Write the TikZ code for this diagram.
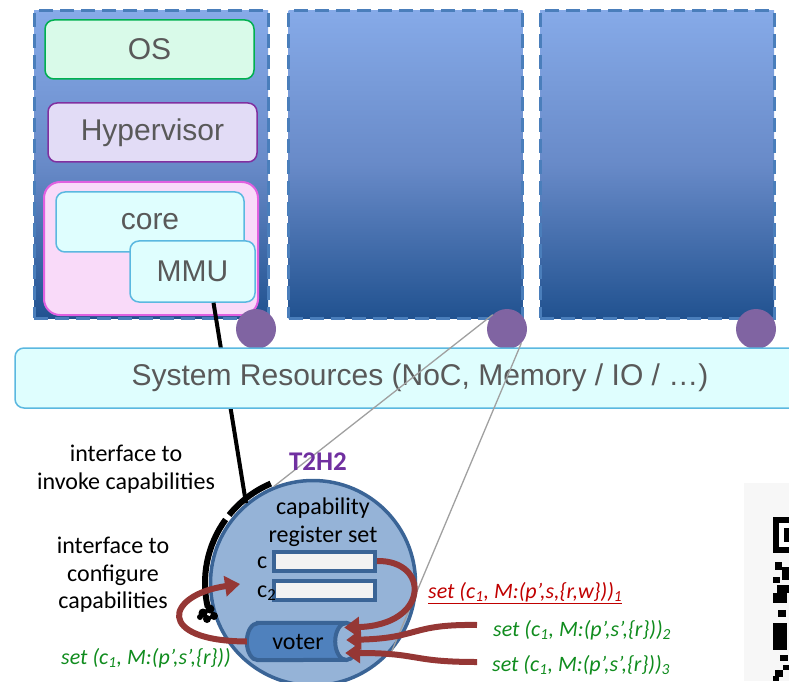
\documentclass[tikz,border=0pt]{standalone}
\usepackage{fontspec}
\setmainfont{Liberation Sans}
\newfontfamily\calfont{Carlito}
\usetikzlibrary{shapes.geometric,arrows.meta,calc}

\definecolor{bladetop}{RGB}{134,170,232}
\definecolor{blademid}{RGB}{104,138,200}
\definecolor{bladebot}{RGB}{33,82,144}
\definecolor{bladeedge}{RGB}{74,126,187}
\definecolor{labelgray}{RGB}{89,89,89}
\definecolor{osfill}{RGB}{217,250,233}
\definecolor{osedge}{RGB}{0,176,80}
\definecolor{hypfill}{RGB}{226,220,246}
\definecolor{hypedge}{RGB}{128,48,160}
\definecolor{cpufill}{RGB}{249,218,249}
\definecolor{cpuedge}{RGB}{224,96,224}
\definecolor{cyanfill}{RGB}{223,254,254}
\definecolor{cyanedge}{RGB}{91,184,224}
\definecolor{portpurple}{RGB}{128,100,162}
\definecolor{tfill}{RGB}{149,179,215}
\definecolor{tedge}{RGB}{58,100,150}
\definecolor{regfill}{RGB}{242,242,242}
\definecolor{voterblue}{RGB}{79,129,189}
\definecolor{arrowred}{RGB}{149,55,53}
\definecolor{tpurple}{RGB}{112,48,160}
\definecolor{setred}{RGB}{192,0,0}
\definecolor{setgreen}{RGB}{16,140,30}
\definecolor{wire}{RGB}{160,160,160}

\begin{document}
\begin{tikzpicture}[x=1pt,y=1pt,
  blade/.style={draw=bladeedge, line width=3pt, dash pattern=on 14pt off 7pt,
    top color=bladetop, bottom color=bladebot, middle color=blademid,
    minimum width=234pt, minimum height=307pt, inner sep=0pt},
  biglabel/.style={font=\fontsize{30}{36}\selectfont, text=labelgray},
  layerbox/.style={biglabel, rounded corners=9pt, line width=1.5pt, inner sep=0pt},
  port/.style={circle, fill=portpurple, minimum size=40pt, inner sep=0pt},
  smalltext/.style={font=\calfont\fontsize{24}{28}\selectfont, text=black},
  settext/.style={font=\calfont\itshape\fontsize{22}{26}\selectfont, inner sep=0pt},
  reg/.style={draw=tedge, fill=regfill, line width=4pt, minimum width=101pt,
    minimum height=19pt, inner sep=0pt},
  redarrow/.style={draw=arrowred, line width=6pt,
    -{Triangle[length=15pt,width=20pt]}},
  wireline/.style={draw=wire, line width=1.3pt}
]
\useasboundingbox (0,0) rectangle (789,681);

% processing elements
\node[blade] (b1) at (151,516.5) {};
\node[blade] (b2) at (405.5,516.5) {};
\node[blade] (b3) at (657,516.5) {};

% software stack of the first element
\node[layerbox, draw=osedge, fill=osfill, minimum width=209pt, minimum height=59pt]
  (os) at (149.5,631.5) {OS};
\node[layerbox, draw=hypedge, fill=hypfill, minimum width=209pt, minimum height=59pt]
  (hyp) at (152.5,548.5) {Hypervisor};
\node[draw=cpuedge, fill=cpufill, line width=2pt, rounded corners=16pt,
  minimum width=214pt, minimum height=133pt, inner sep=0pt] (cpu) at (151,432.5) {};
\node[layerbox, draw=cyanedge, fill=cyanfill, minimum width=188pt, minimum height=60pt]
  (core) at (150,459) {core};
\node[layerbox, draw=cyanedge, fill=cyanfill, minimum width=125pt, minimum height=61pt]
  (mmu) at (192.5,409.5) {MMU};

% ports to the interconnect
\node[port] (p1) at (256,352) {};
\node[port] (p2) at (507,352) {};
\node[port] (p3) at (756,352) {};

% capability unit
\node[circle, draw=tedge, fill=tfill, line width=3.5pt, minimum size=205pt,
  inner sep=0pt] (t2h2) at (313,98) {};

% invocation wire from the MMU
\draw[line width=4pt] ($(mmu.south)+(21,0)$) -- (t2h2.130);

% shared resources
\node[draw=cyanedge, fill=cyanfill, line width=1.5pt, rounded corners=9pt,
  minimum width=790pt, minimum height=60pt, inner sep=0pt] (res) at (410,303) {};
\node[biglabel, inner sep=0pt] (reslabel) at (420,303)
  {System Resources (NoC, Memory / IO / \ldots)};

% magnification lines from the port
\draw[wireline] (p2.135) -- (t2h2.112);
\draw[wireline] (p2.-45) -- (t2h2.-41);

% interface segments on the unit's border
\draw[line width=6pt] ($(t2h2.center)+(113:108)$) arc[start angle=113, end angle=141, radius=108];
\draw[line width=6pt] ($(t2h2.center)+(144:108)$) arc[start angle=144, end angle=193, radius=108];
\fill (203,68) circle (4.5) (210,72) circle (4.5) (214,65) circle (4)
      (207,62) circle (4) (200,64) circle (3);

\node[font=\calfont\bfseries\fontsize{27}{32}\selectfont, text=tpurple] (t2lab)
  at (318,219) {T2H2};
\node[smalltext, align=center] (crs) at (323,159) {capability\\register set};

% capability registers
\node[smalltext, anchor=base west, inner sep=0pt] (c1lab) at (257,113) {c};
\node[reg] (c1) at (324.5,120) {};
\node[reg] (c2) at (324.5,91) {};
\node[smalltext, anchor=base west, inner sep=0pt] (c2lab) at (257,84) {c\textsubscript{2}};

% voter: a lying cylinder, open face to the right
\node[minimum width=110pt, minimum height=37pt, inner sep=0pt] (voter) at (302,39.5) {};
\path[fill=voterblue, draw=tedge, line width=4pt]
  ($(voter.north west)+(11,0)$) -- ($(voter.north east)+(-11,0)$)
  arc[start angle=90, end angle=-90, x radius=11, y radius=18.5]
  -- ($(voter.south west)+(11,0)$)
  arc[start angle=270, end angle=90, x radius=11, y radius=18.5] -- cycle;
\path[fill=tfill, draw=tedge, line width=4pt]
  ($(voter.east)+(-11,0)$) ellipse [x radius=11, y radius=18.5];
\node[font=\calfont\fontsize{24}{28}\selectfont, inner sep=0pt] (votertext)
  at ($(voter.center)+(-4,0)$) {voter};

% update requests
\coordinate (inB) at (477,56);
\coordinate (inC) at (477,19);
\coordinate (fbtip) at (240,97);
\draw[redarrow] (c1.east) .. controls (430,121) and (430,56) .. ($(voter.east)+(-13,14)$);
\draw[redarrow] (inB) .. controls (410,57) and (420,43) .. ($(voter.east)+(-11,1.5)$);
\draw[redarrow] (inC) .. controls (410,19) and (420,28) .. ($(voter.east)+(-12,-11.5)$);
\draw[redarrow] (voter.west) .. controls (155,40) and (165,86) .. (fbtip);

% labels
\node[smalltext, align=center] (ifinv) at (126,212) {interface to\\invoke capabilities};
\node[smalltext, align=center, font=\calfont\fontsize{24}{27.5}\selectfont] (ifcfg)
  at (113,106) {interface to\\configure\\capabilities};

\node[settext, text=setred, anchor=west] (s1) at (428,88)
  {\underline{set (c\textsubscript{1}, M:(p’,s,\{r,w\}))\textsubscript{1}}};
\node[settext, text=setgreen, anchor=west] (s2) at (493,51)
  {set (c\textsubscript{1}, M:(p’,s’,\{r\}))\textsubscript{2}};
\node[settext, text=setgreen, anchor=west] (s3) at (492,16)
  {set (c\textsubscript{1}, M:(p’,s’,\{r\}))\textsubscript{3}};
\node[settext, text=setgreen] (s0) at (146,23)
  {set (c\textsubscript{1}, M:(p’,s’,\{r\}))};

% code tag at the right border
\begin{scope}[yshift=681pt, yscale=-1]
  \fill[black!3] (744,483) rectangle (789,681);
  \fill (773,517) rectangle (789,553);
  \fill[white] (779,523) rectangle (789,547);
  \fill (784,528) rectangle (789,542);
  \fill (775,562) rectangle ++(7,8);
  \fill (782,567) rectangle ++(7,13);
  \fill (773,577) rectangle ++(7,6);
  \fill (777,585) rectangle ++(12,8);
  \fill (773,593) rectangle ++(14,10);
  \fill (778,610) rectangle ++(8,7);
  \fill (773,623) rectangle ++(14,27);
  \fill (780,655) rectangle ++(8,6);
  \fill (783,665) rectangle ++(6,5);
  \fill (775,670) rectangle ++(8,7);
  \fill (773,676) rectangle ++(6,5);
\end{scope}
\end{tikzpicture}
\end{document}
